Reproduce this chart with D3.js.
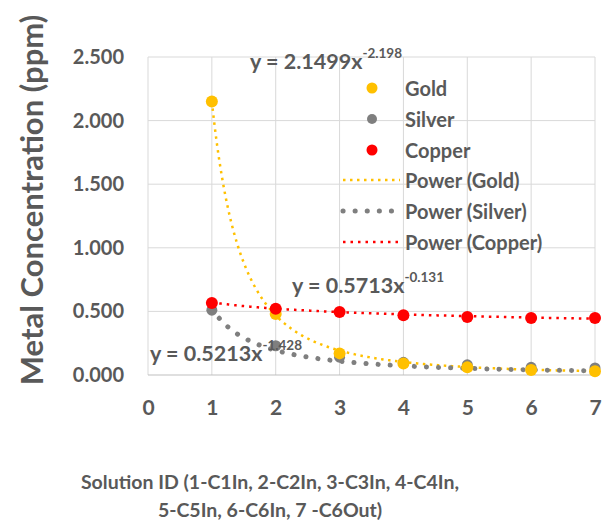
<!DOCTYPE html>
<html>
<head>
<meta charset="utf-8">
<script src="https://cdn.jsdelivr.net/npm/d3@7"></script>
<style>
  html, body { margin: 0; padding: 0; background: #fff; }
  svg text { font-family: Lato, "Open Sans", sans-serif; font-weight: bold; fill: #595959; }
</style>
</head>
<body>
<svg id="chart" width="603" height="527"></svg>
<script>
// ---- data ----
const solutionIds = [1, 2, 3, 4, 5, 6, 7];
const gold   = [2.15, 0.48, 0.17, 0.09, 0.06, 0.04, 0.03];
const silver = [0.51, 0.23, 0.14, 0.10, 0.08, 0.06, 0.055];
const copper = [0.566, 0.52, 0.495, 0.47, 0.456, 0.448, 0.448];
const seriesNames = ["Gold", "Silver", "Copper"];
const seriesColors = ["#FFC000", "#7F7F7F", "#FF0000"];
const trendCoef = [2.1499, 0.5213, 0.5713];
const trendExp  = [-2.198, -1.428, -0.131];
const trendBase = ["y = 2.1499x", "y = 0.5213x", "y = 0.5713x"];
const trendSup  = ["-2.198", "-1.428", "-0.131"];
const xTicks = [0, 1, 2, 3, 4, 5, 6, 7];
const yTicks = [0, 0.5, 1.0, 1.5, 2.0, 2.5];
const yTitle = "Metal Concentration  (ppm)";
const xTitleLines = ["Solution ID (1-C1In, 2-C2In, 3-C3In, 4-C4In,", "5-C5In, 6-C6In, 7 -C6Out)"];

const svg = d3.select("#chart");
const x = d3.scaleLinear().domain([0, 7]).range([148, 595]);
const y = d3.scaleLinear().domain([0, 2.5]).range([375, 57]);

// gridlines
const grid = svg.append("g");
grid.selectAll("line.v").data(xTicks).join("line")
  .attr("x1", d => x(d)).attr("x2", d => x(d))
  .attr("y1", y(0)).attr("y2", y(2.5))
  .attr("stroke", "#D9D9D9").attr("stroke-width", 1);
grid.selectAll("line.h").data(yTicks).join("line")
  .attr("x1", x(0)).attr("x2", x(7))
  .attr("y1", d => y(d)).attr("y2", d => y(d))
  .attr("stroke", d => d === 0 ? "#BFBFBF" : "#D9D9D9").attr("stroke-width", 1);

// axes labels via d3 axes
const yAxis = svg.append("g").attr("transform", `translate(${x(0) - 21},0)`)
  .call(d3.axisLeft(y).tickValues(yTicks).tickFormat(d3.format(".3f")).tickSize(0));
yAxis.select(".domain").remove();
yAxis.selectAll("text").attr("font-size", 20).attr("fill", "#595959")
  .style("font-family", "Lato, sans-serif").style("font-weight", "bold");

const xAxis = svg.append("g").attr("transform", `translate(0,${y(0) + 22})`)
  .call(d3.axisBottom(x).tickValues(xTicks).tickFormat(d3.format("d")).tickSize(0));
xAxis.select(".domain").remove();
xAxis.selectAll("text").attr("font-size", 21).attr("fill", "#595959")
  .style("font-family", "Lato, sans-serif").style("font-weight", "bold");

// titles
svg.append("text")
  .attr("transform", `translate(31,${200}) rotate(-90)`)
  .attr("text-anchor", "middle").attr("dominant-baseline", "central")
  .attr("font-size", 31).text(yTitle);
svg.selectAll("text.xt").data(xTitleLines).join("text")
  .attr("x", 270).attr("y", (d, i) => 489 + i * 28)
  .attr("text-anchor", "middle").attr("font-size", 19.5).text(d => d);

// trendlines
const allSeries = [gold, silver, copper];
const trendStyles = [
  { w: 2.5, dash: "2.5,4.5", cap: "butt" },
  { w: 5, dash: "0.1,12", cap: "round" },
  { w: 2.5, dash: "2.5,5", cap: "butt" }
];
const xs = d3.range(1, 7.0001, 0.02);
const line = d3.line().x(d => x(d[0])).y(d => y(d[1]));
trendCoef.forEach((a, i) => {
  const pts = xs.map(v => [v, a * Math.pow(v, trendExp[i])]).filter(p => p[1] <= 2.5);
  svg.append("path").attr("d", line(pts)).attr("fill", "none")
    .attr("stroke", seriesColors[i]).attr("stroke-width", trendStyles[i].w)
    .attr("stroke-dasharray", trendStyles[i].dash).attr("stroke-linecap", trendStyles[i].cap);
});

// markers
const radii = [6, 5.5, 6];
[1, 0, 2].forEach(i => {
  svg.append("g").selectAll("circle").data(allSeries[i]).join("circle")
    .attr("cx", (d, j) => x(solutionIds[j])).attr("cy", d => y(d))
    .attr("r", radii[i]).attr("fill", seriesColors[i]);
});

// trend equations
const eqPos = [[250, 61], [150, 353], [292, 285]];
trendBase.forEach((t, i) => {
  const tx = svg.append("text").attr("x", eqPos[i][0]).attr("y", eqPos[i][1])
    .attr("dominant-baseline", "central").attr("font-size", 21.5);
  tx.append("tspan").text(t);
  tx.append("tspan").attr("font-size", 13.5).attr("dy", -8).text(trendSup[i]);
});

// legend
const legendItems = [
  { label: "Gold", type: "marker", s: 0 },
  { label: "Silver", type: "marker", s: 1 },
  { label: "Copper", type: "marker", s: 2 },
  { label: "Power (Gold)", type: "line", s: 0 },
  { label: "Power (Silver)", type: "line", s: 1 },
  { label: "Power (Copper)", type: "line", s: 2 }
];
const legendY = [88, 119, 150, 180, 211, 242];
const lg = svg.append("g");
legendItems.forEach((it, k) => {
  const yy = legendY[k];
  if (it.type === "marker") {
    lg.append("circle").attr("cx", 372).attr("cy", yy).attr("r", radii[it.s] - 0.5)
      .attr("fill", seriesColors[it.s]);
  } else {
    lg.append("line").attr("x1", 343).attr("x2", 400).attr("y1", yy).attr("y2", yy)
      .attr("stroke", seriesColors[it.s]).attr("stroke-width", trendStyles[it.s].w)
      .attr("stroke-dasharray", trendStyles[it.s].dash).attr("stroke-linecap", trendStyles[it.s].cap);
  }
  lg.append("text").attr("x", 405).attr("y", yy).attr("dominant-baseline", "central")
    .attr("font-size", 20).text(it.label);
});
</script>
</body>
</html>
